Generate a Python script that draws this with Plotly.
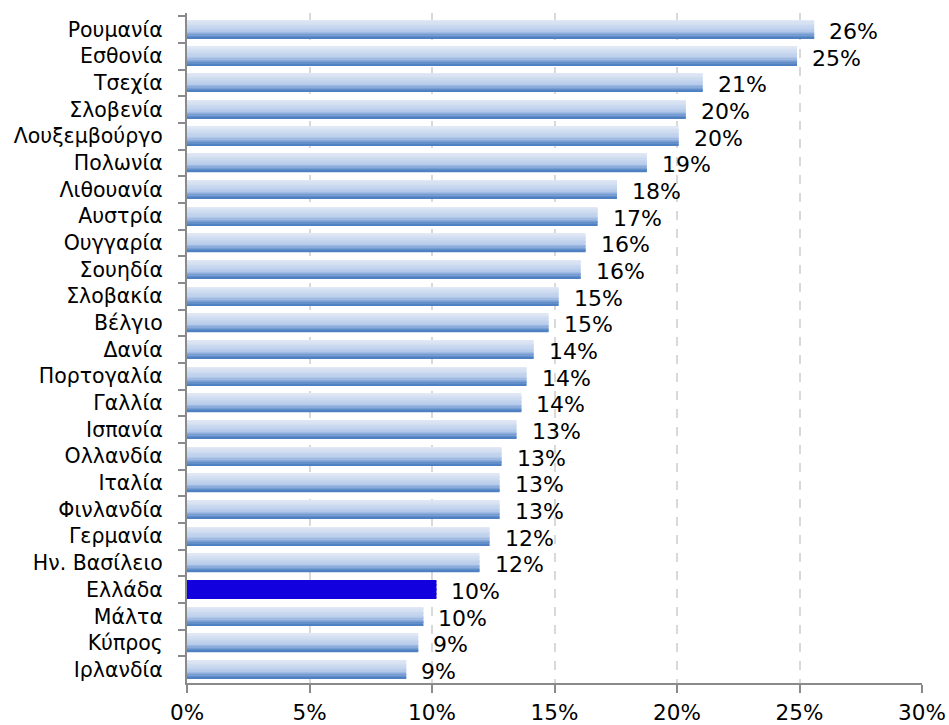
import numpy as np
import plotly.graph_objects as go

# Country names (top to bottom) and their shares in percent
countries = [
    "Ρουμανία", "Εσθονία", "Τσεχία", "Σλοβενία", "Λουξεμβούργο", "Πολωνία",
    "Λιθουανία", "Αυστρία", "Ουγγαρία", "Σουηδία", "Σλοβακία", "Βέλγιο",
    "Δανία", "Πορτογαλία", "Γαλλία", "Ισπανία", "Ολλανδία", "Ιταλία",
    "Φινλανδία", "Γερμανία", "Ην. Βασίλειο", "Ελλάδα", "Μάλτα", "Κύπρος",
    "Ιρλανδία",
]
values = [
    25.6, 24.9, 21.05, 20.36, 20.07, 18.77,
    17.55, 16.76, 16.27, 16.07, 15.17, 14.76,
    14.15, 13.86, 13.65, 13.45, 12.84, 12.76,
    12.76, 12.35, 11.94, 10.18, 9.65, 9.44,
    8.95,
]
highlight = "Ελλάδα"

x_ticks = [0, 5, 10, 15, 20, 25, 30]

# Vertical gradient for the bars: light on top, deeper blue at the bottom
top_rgb = np.array([225, 232, 245])
mid_rgb = np.array([184, 204, 235])
bot_rgb = np.array([78, 128, 194])
n_bands = 14
bar_h = 0.69
band_h = bar_h / n_bands
highlight_color = "#1200df"


def band_color(t):
    if t < 0.6:
        c = top_rgb + (mid_rgb - top_rgb) * (t / 0.6)
    else:
        c = mid_rgb + (bot_rgb - mid_rgb) * ((t - 0.6) / 0.4)
    c = np.round(c).astype(int)
    return f"rgb({c[0]},{c[1]},{c[2]})"


fig = go.Figure()
for i in range(n_bands):
    col = band_color(i / (n_bands - 1))
    colors = [highlight_color if c == highlight else col for c in countries]
    fig.add_trace(go.Bar(
        x=values,
        y=countries,
        orientation="h",
        width=band_h * 1.05,
        offset=-bar_h / 2 + i * band_h,
        marker=dict(color=colors, line=dict(width=0)),
        hoverinfo="skip",
        showlegend=False,
    ))

# Percent labels placed to the right of each bar
for c, v in zip(countries, values):
    fig.add_annotation(
        x=v, y=c, text=f"{v:.0f}%", showarrow=False,
        xanchor="left", yanchor="middle", xshift=13, yshift=-2,
        font=dict(family="DejaVu Sans", size=22, color="#000000"),
    )

fig.update_layout(
    width=949, height=725,
    margin=dict(l=187, r=27, t=13, b=42),
    barmode="overlay",
    plot_bgcolor="white",
    paper_bgcolor="white",
    font=dict(family="DejaVu Sans", color="#000000"),
)
fig.update_xaxes(
    range=[0, 30],
    tickvals=x_ticks,
    ticktext=[f"{t}%" for t in x_ticks],
    tickfont=dict(size=21.5),
    ticks="outside", ticklen=8, tickwidth=2, tickcolor="#8a8a8a",
    showline=True, linecolor="#8a8a8a", linewidth=2,
    showgrid=True, gridcolor="#d9d9d9", griddash="dash", gridwidth=2,
    zeroline=False,
    ticklabelstandoff=1,
    automargin=False,
)
fig.update_yaxes(
    categoryorder="array", categoryarray=countries,
    autorange="reversed",
    tickfont=dict(size=20.5),
    ticks="outside", ticklen=7, tickwidth=2, tickcolor="#8a8a8a",
    tickson="boundaries",
    showline=True, linecolor="#8a8a8a", linewidth=2,
    showgrid=False,
    ticklabelstandoff=18,
    automargin=False,
)

fig.write_html("out.html")
